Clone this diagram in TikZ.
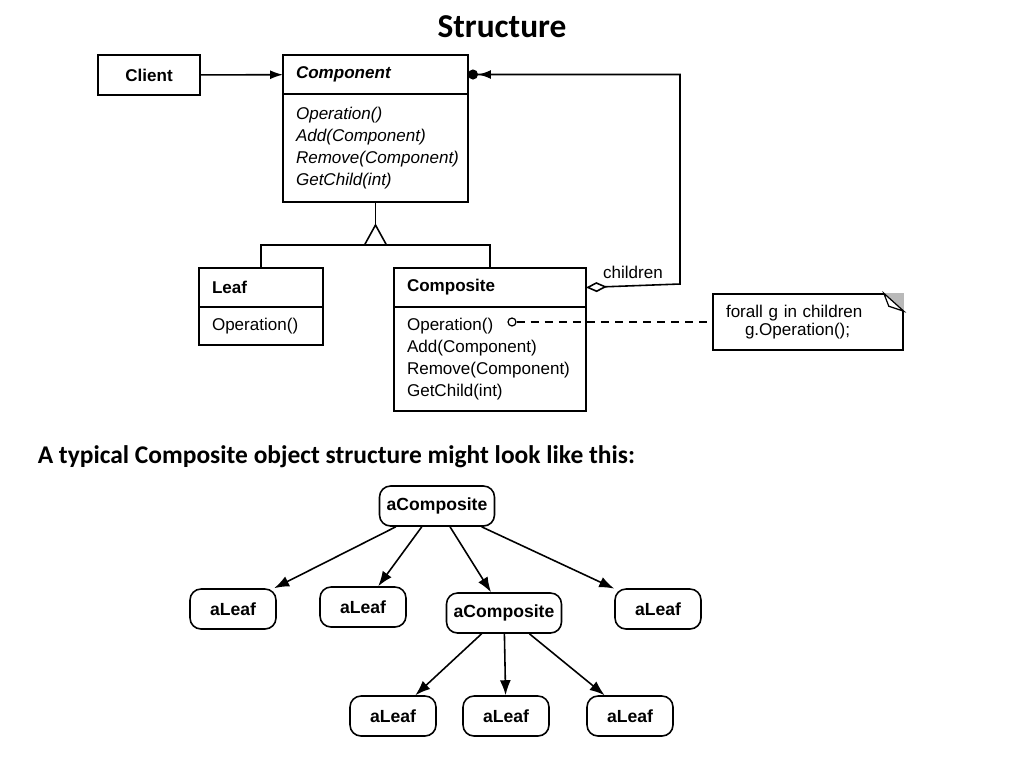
\documentclass[tikz,border=0pt]{standalone}
\usepackage{fontspec}
\setmainfont{Liberation Sans}
\newfontfamily\slidefont{Carlito}
\usetikzlibrary{arrows.meta,positioning}

\begin{document}
\begin{tikzpicture}[x=0.02cm, y=-0.02cm, line width=0.9pt,
    font=\fontsize{9.7}{12.5}\selectfont,
    head/.style={draw, outer sep=0pt, inner xsep=0.26cm, minimum height=0.78cm, align=left, font=\fontsize{9.7}{12.5}\selectfont\bfseries},
    body/.style={draw, outer sep=0pt, inner xsep=0.26cm, align=left},
    obj/.style={draw, rounded corners=0.22cm, minimum width=1.72cm, minimum height=0.8cm, font=\fontsize{10}{12}\selectfont\bfseries},
    arr/.style={-{Latex[length=0.3cm,width=0.22cm]}}]
    \useasboundingbox (0,0) rectangle (1024,768);
    % Titles
    \node[font=\slidefont\bfseries\fontsize{19}{23}\selectfont] (title) at (502,27) {Structure};
    \node[anchor=west, inner sep=0pt, font=\slidefont\bfseries\fontsize{14.5}{17}\selectfont] (caption) at (37,457) {A typical Composite object structure might look like this:};
    % Classes
    \node[draw, minimum width=2.04cm, minimum height=0.8cm, font=\fontsize{9.7}{12.5}\selectfont\bfseries] (client) at (149,75) {Client};
    \node[head, minimum width=3.7cm, text width=3.18cm] (comphead) at (375.5,74.5) {\itshape Component};
    \node[body, minimum width=3.7cm, text width=3.18cm, minimum height=2.16cm, below=0pt of comphead, font=\fontsize{9.7}{12.5}\selectfont\itshape] (compbody) {Operation()\\Add(Component)\\Remove(Component)\\GetChild(int)};
    \node[head, minimum width=2.48cm, text width=1.96cm] (leafhead) at (261,287.5) {Leaf};
    \node[body, minimum width=2.48cm, text width=1.96cm, minimum height=0.76cm, below=0pt of leafhead] (leafbody) {Operation()};
    \node[head, minimum width=3.84cm, text width=3.32cm] (cmphead) at (490,287.5) {Composite};
    \node[body, minimum width=3.84cm, text width=3.32cm, minimum height=2.08cm, below=0pt of cmphead] (cmpbody) {Operation()\\Add(Component)\\Remove(Component)\\GetChild(int)};
    % Note
    \node[draw, minimum width=3.8cm, minimum height=1.12cm, inner xsep=0.26cm, text width=3.28cm, align=left, font=\fontsize{9.7}{10}\selectfont] (note) at (808,322) {forall g in children\\\hspace*{0.38cm}g.Operation();};
    \fill[gray!55] ([shift={(-20,0)}]note.north east) -- (note.north east) -- ([shift={(0,18)}]note.north east) -- cycle;
    \draw[fill=white, line width=0.7pt] ([shift={(-20,0)}]note.north east) -- ([shift={(-15,13)}]note.north east) -- ([shift={(0,18)}]note.north east) -- cycle;
    \node[circle, draw, inner sep=0pt, minimum size=0.16cm, line width=0.7pt] (opdot) at (512,322) {};
    \draw[dash pattern=on 4.5pt off 3.5pt] (opdot) -- (opdot -| note.west);
    % Associations
    \draw[-{Latex[length=0.26cm,width=0.18cm]}] (client) -- (comphead);
    \coordinate (corner) at (680,284);
    \draw[{Diamond[open,length=0.42cm,width=0.2cm]}-{Latex[length=0.26cm,width=0.18cm]Circle[length=0.2cm]}] (cmphead.east) -- node[above] {children} (corner) |- (comphead.east);
    % Inheritance
    \coordinate (apex) at (375.5,225);
    \coordinate (base) at (375.5,245);
    \draw (compbody.south) -- (apex);
    \draw (apex) -- ++(-11,20) -- ++(22,0) -- cycle;
    \draw (leafhead.north) |- ([xshift=-11*0.02cm]base);
    \draw ([xshift=11*0.02cm]base) -| (cmphead.north);
    % Object structure
    \node[obj, minimum width=2.3cm] (ac1) at (437,506) {aComposite};
    \node[obj] (la) at (233,609) {aLeaf};
    \node[obj] (lb) at (363,607) {aLeaf};
    \node[obj, minimum width=2.3cm] (ac2) at (504,613) {aComposite};
    \node[obj] (lc) at (658,609) {aLeaf};
    \node[obj] (ld) at (393,716) {aLeaf};
    \node[obj] (le) at (506,716) {aLeaf};
    \node[obj] (lf) at (630,716) {aLeaf};
    \foreach \t in {la,lb,ac2,lc}
        \draw[arr] (ac1) -- (\t);
    \foreach \t in {ld,le,lf}
        \draw[arr] (ac2) -- (\t);
\end{tikzpicture}
\end{document}
